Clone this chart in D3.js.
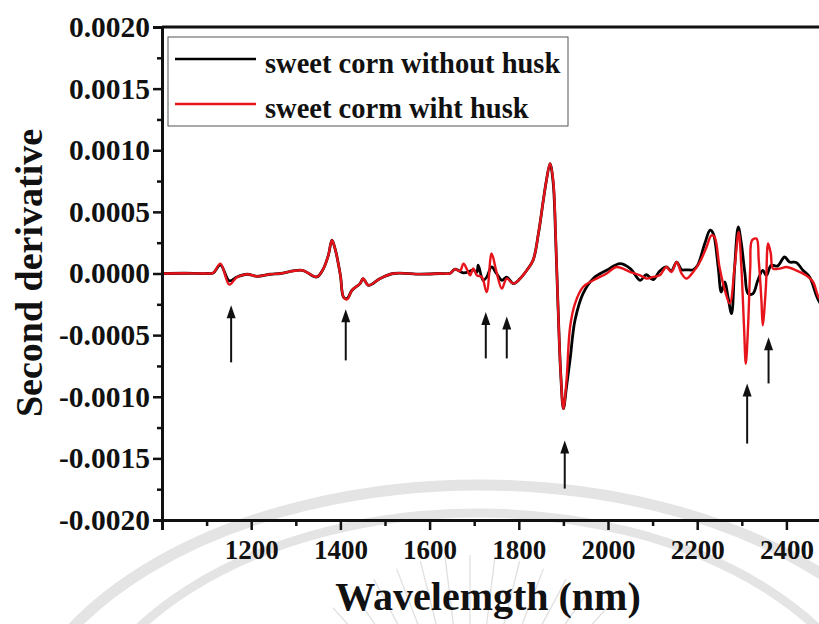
<!DOCTYPE html>
<html><head><meta charset="utf-8">
<script src="https://cdn.jsdelivr.net/npm/d3@7"></script>
<style>
html,body{margin:0;padding:0;background:#fff;overflow:hidden}
text{font-family:"Liberation Serif","Times New Roman",serif;font-weight:bold;fill:#111}
</style></head>
<body><svg id="chart" width="819" height="624"></svg>
<script>
// ---------- data (values x 1e-4 are converted below) ----------
const seriesNames = ["sweet corn without husk", "sweet corm wiht husk"];
const seriesColors = ["#000000", "#e8141b"];

const withoutHuskWl = [1000,1050,1100,1115,1131,1151,1168,1191,1213,1243,1265,1314,1347,1362,1373,1381,1388,1400,1407,1415,1426,1444,1451,1463,1489,1519,1579,1624,1646,1657,1676,1691,1698,1706,1709,1720,1728,1739,1750,1762,1773,1788,1803,1818,1832,1844,1855,1862,1870,1877,1883,1888,1894,1900,1907,1915,1926,1944,1967,1997,2027,2050,2072,2086,2101,2116,2131,2142,2154,2165,2176,2191,2201,2217,2229,2236,2247,2254,2262,2269,2277,2284,2292,2299,2307,2314,2325,2336,2347,2355,2366,2380,2396,2407,2422,2437,2452,2472,2499];
const withoutHuskVal = [0,0.02,0,0.05,0.7,-0.6,-0.28,-0.06,-0.23,-0.06,0,0.26,-0.28,0.40,1.48,2.70,2.02,-0.15,-1.91,-2.04,-1.36,-0.82,-0.41,-0.96,-0.41,0,-0.05,0,0.02,0.35,0.05,0.2,0.3,0.1,0.67,-0.55,-0.3,0.53,0.0,-0.55,-0.3,-0.82,-0.41,0.26,1.07,3.24,5.94,7.57,8.92,7.4,2.5,-2.72,-8.13,-10.97,-9.2,-6.97,-3.80,-1.63,-0.4,0.26,0.80,0.40,-0.55,-0.1,-0.5,0.2,0.53,0.2,0.93,0.3,0.3,0.3,0.67,2.43,3.51,3.24,0.53,-1.50,-0.69,-1.91,-3.26,0.53,3.78,2.43,0,-1.63,-1.63,-0.55,0.26,-0.15,0.67,0.6,1.34,0.93,0.9,0.26,-0.28,-2.18,-3.5];

const withHuskWl = [1000,1050,1100,1115,1131,1151,1168,1191,1213,1243,1265,1314,1347,1362,1373,1381,1388,1400,1407,1415,1426,1444,1451,1463,1489,1519,1579,1624,1646,1657,1668,1676,1683,1691,1698,1706,1717,1728,1739,1750,1762,1773,1788,1803,1818,1832,1844,1855,1862,1870,1877,1883,1888,1894,1900,1907,1915,1926,1944,1967,1997,2019,2050,2072,2086,2101,2116,2131,2142,2154,2165,2176,2191,2206,2221,2232,2239,2250,2262,2273,2284,2293,2299,2305,2309,2314,2319,2323,2333,2338,2344,2347,2354,2359,2365,2370,2385,2400,2422,2444,2460,2472,2499];
const withHuskVal = [0,0.02,0,0.05,0.8,-0.9,-0.3,-0.06,-0.23,-0.06,0,0.26,-0.28,0.40,1.48,2.70,2.02,-0.15,-1.91,-2.10,-1.36,-0.82,-0.41,-0.96,-0.41,0,-0.05,0,0.02,0.35,0.2,0.80,0.40,-0.15,0.40,-0.15,-0.28,-1.50,1.62,0.12,-1.23,-0.41,-0.82,-0.41,0.26,1.07,3.24,5.94,7.57,8.92,7.57,2.7,-2.72,-8.13,-10.97,-8.67,-4.34,-2.44,-1.10,-0.55,0,0.53,0.12,-0.15,-0.41,-0.28,-0.15,0.53,0.12,0.93,-0.01,-0.41,0.12,0.93,2.15,3.10,2.96,0.53,-1.36,-2.44,0.53,3.37,0.53,-4.34,-7.32,-4.34,0.53,2.70,2.83,1.07,-2.18,-4.21,-1.10,2.43,1.62,0.40,0.40,0.53,0.26,-0.15,-0.69,-1.91,-3.2];

const xMajorTicks = [1200,1400,1600,1800,2000,2200,2400];
const xMinorTicks = [1100,1300,1500,1700,1900,2100,2300,2500];
const yMajorTicks = [-0.002,-0.0015,-0.001,-0.0005,0,0.0005,0.001,0.0015,0.002];
const yMinorTicks = [-0.00175,-0.00125,-0.00075,-0.00025,0.00025,0.00075,0.00125,0.00175];

// arrow annotations: wavelength, tip value, tail value
const arrowWl   = [1155,1412,1726,1773,1903,2312,2360];
const arrowTip  = [-0.000258,-0.000291,-0.000313,-0.000348,-0.001355,-0.000893,-0.000518];
const arrowTail = [-0.000721,-0.000705,-0.000689,-0.000689,-0.001745,-0.001380,-0.000892];

const xTitle = "Wavelemgth (nm)";
const yTitle = "Second derivative";

// ---------- drawing ----------
const svg = d3.select("#chart");
const L = 162, R = 831, T = 27, B = 520;
const x = d3.scaleLinear().domain([1000,2500]).range([L,R]);
const y = d3.scaleLinear().domain([-0.002,0.002]).range([B,T]);

// watermark (background)
const wm = svg.append("g").attr("fill","none").attr("stroke","#e4e4e4");
wm.append("ellipse").attr("cx",480).attr("cy",770).attr("rx",470).attr("ry",285).attr("stroke-width",11);
wm.append("ellipse").attr("cx",478).attr("cy",775).attr("rx",410).attr("ry",262).attr("stroke-width",9);
const rays = d3.range(-160,-19,7);
rays.forEach(a=>{
  const r = a*Math.PI/180, cx=470, cy=760;
  wm.append("line").attr("x1",cx+Math.cos(r)*130).attr("y1",cy+Math.sin(r)*130)
    .attr("x2",cx+Math.cos(r)*205).attr("y2",cy+Math.sin(r)*205)
    .attr("stroke","#e0e0e0").attr("stroke-width",1.3);
});

// series
const line = d3.line().x(d=>x(d[0])).y(d=>y(d[1])).curve(d3.curveCatmullRom.alpha(0.5));
const black = withoutHuskWl.map((w,i)=>[w, withoutHuskVal[i]*1e-4]);
const red = withHuskWl.map((w,i)=>[w, withHuskVal[i]*1e-4]);
svg.append("path").datum(black).attr("d",line).attr("fill","none").attr("stroke",seriesColors[0]).attr("stroke-width",2.8).attr("stroke-linejoin","round");
svg.append("path").datum(red).attr("d",line).attr("fill","none").attr("stroke",seriesColors[1]).attr("stroke-width",2.4).attr("stroke-linejoin","round");

// arrows
const ag = svg.append("g");
arrowWl.forEach((w,i)=>{
  const ax = x(w), yt = y(arrowTip[i]), yb = y(arrowTail[i]);
  ag.append("line").attr("x1",ax).attr("x2",ax).attr("y1",yt+8).attr("y2",yb).attr("stroke","#111").attr("stroke-width",2);
  ag.append("path").attr("d",`M${ax},${yt} L${ax-4.5},${yt+13} L${ax+4.5},${yt+13} Z`).attr("fill","#111");
});

// axes
const fmt = d => d.toFixed(4);
const gx = svg.append("g").attr("transform",`translate(0,${B})`)
  .call(d3.axisBottom(x).tickValues(xMajorTicks).tickSize(10).tickPadding(10).tickFormat(d3.format("d")));
const gxm = svg.append("g").attr("transform",`translate(0,${B})`)
  .call(d3.axisBottom(x).tickValues(xMinorTicks).tickSize(6).tickFormat(""));
const gy = svg.append("g").attr("transform",`translate(${L},0)`)
  .call(d3.axisLeft(y).tickValues(yMajorTicks).tickSize(9).tickPadding(3).tickFormat(fmt));
const gym = svg.append("g").attr("transform",`translate(${L},0)`)
  .call(d3.axisLeft(y).tickValues(yMinorTicks).tickSize(5).tickFormat(""));
[gx,gxm,gy,gym].forEach(g=>{
  g.selectAll(".domain").attr("stroke","#111").attr("stroke-width",3);
  g.selectAll(".tick line").attr("stroke","#111").attr("stroke-width",2.5);
  g.selectAll(".tick text").attr("font-family","Liberation Serif").attr("font-weight","bold").attr("font-size",27).attr("fill","#111");
});
gy.selectAll(".tick text").attr("font-size",29.5);
gxm.select(".domain").remove(); gym.select(".domain").remove();
// top frame
svg.append("line").attr("x1",L).attr("x2",R).attr("y1",T).attr("y2",T).attr("stroke","#111").attr("stroke-width",3);

// titles
svg.append("text").attr("x",488).attr("y",610).attr("text-anchor","middle").attr("font-size",40).text(xTitle);
svg.append("text").attr("transform","translate(42,273) rotate(-90)").attr("text-anchor","middle").attr("font-size",38).text(yTitle);

// legend
const lg = svg.append("g");
lg.append("rect").attr("x",168).attr("y",37).attr("width",400).attr("height",89).attr("fill","#fff").attr("stroke","#555").attr("stroke-width",1);
seriesNames.forEach((n,i)=>{
  const yy = 59 + i*45;
  lg.append("line").attr("x1",175).attr("x2",256).attr("y1",yy).attr("y2",yy).attr("stroke",seriesColors[i]).attr("stroke-width",2.5);
  lg.append("text").attr("x",265).attr("y",yy+14).attr("font-size",28.5).text(n);
});
</script></body></html>
